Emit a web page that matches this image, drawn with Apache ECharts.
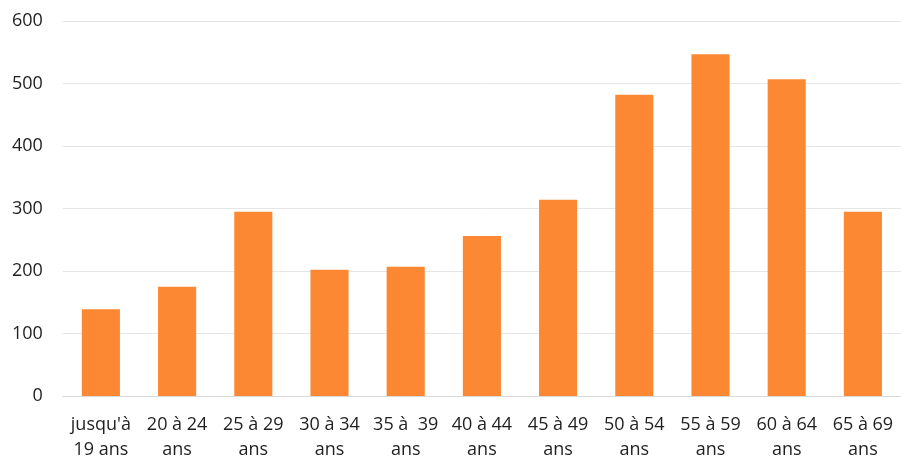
<!DOCTYPE html>
<html>
<head>
<meta charset="utf-8">
<style>
  html, body { margin: 0; padding: 0; background: #ffffff; overflow: hidden; }
  #chart { width: 901px; height: 462px; }
</style>
<script src="https://cdn.jsdelivr.net/npm/echarts@6/dist/echarts.min.js"></script>
</head>
<body>
<div id="chart"></div>
<script>
// Age bands (x axis)
const categories = [
  "jusqu'à\n19 ans", "20 à 24\nans", "25 à 29\nans", "30 à 34\nans",
  "35 à  39\nans", "40 à 44\nans", "45 à 49\nans", "50 à 54\nans",
  "55 à 59\nans", "60 à 64\nans", "65 à 69\nans"
];
// Count per age band
const values = [139, 175, 295, 202, 207, 256, 314, 482, 547, 507, 295];
// Value axis ticks
const yMin = 0;
const yMax = 600;
const yStep = 100;

const chart = echarts.init(document.getElementById('chart'), null, { renderer: 'canvas' });
chart.setOption({
  animation: false,
  grid: { left: 62.8, right: -2, top: 21, bottom: 60.3, containLabel: false },
  xAxis: {
    type: 'category',
    data: categories,
    axisLine: { show: true, lineStyle: { color: '#d9d9d9', width: 1 } },
    axisTick: { show: false },
    axisLabel: {
      interval: 0,
      color: '#1f1f1f',
      fontFamily: 'Open Sans',
      fontSize: 18,
      lineHeight: 25,
      margin: 16
    }
  },
  yAxis: {
    type: 'value',
    min: yMin,
    max: yMax,
    interval: yStep,
    axisLine: { show: false },
    axisTick: { show: false },
    splitLine: { lineStyle: { color: '#e6e6e6', width: 1 } },
    axisLabel: {
      color: '#1f1f1f',
      fontFamily: 'Open Sans',
      fontSize: 18,
      margin: 20
    }
  },
  series: [{
    type: 'bar',
    data: values,
    barWidth: '50%',
    itemStyle: { color: '#FD8833' }
  }]
});
</script>
</body>
</html>
